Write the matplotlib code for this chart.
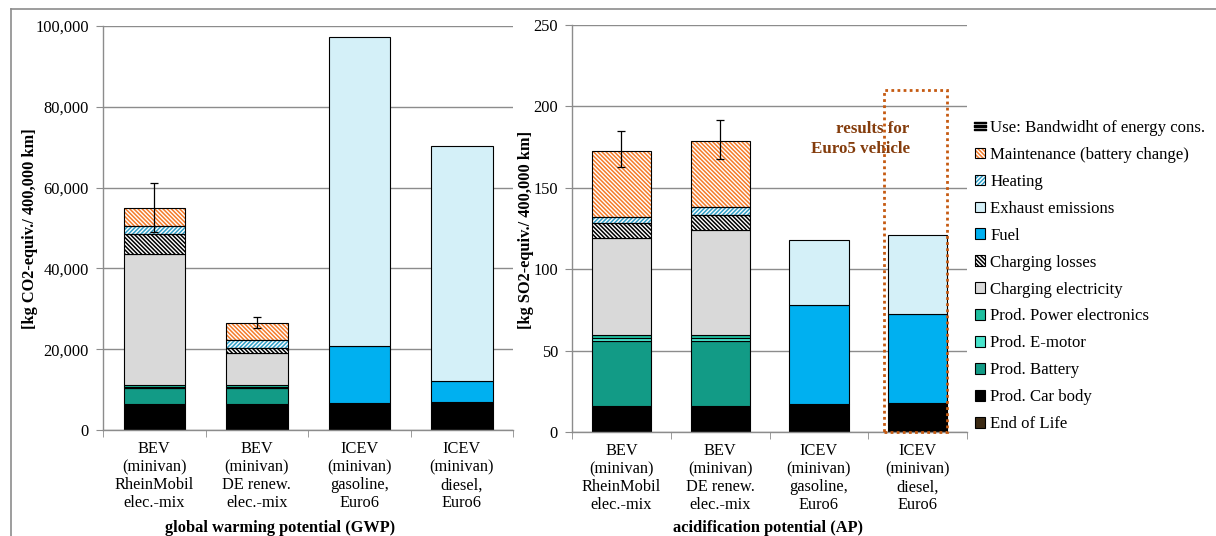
import numpy as np
import matplotlib
matplotlib.use("Agg")
import matplotlib.pyplot as plt
from matplotlib.patches import Patch, Rectangle
from matplotlib.lines import Line2D
from matplotlib.legend_handler import HandlerTuple
from matplotlib.ticker import FuncFormatter, FixedLocator

plt.rcParams['font.family'] = ['Liberation Serif', 'DejaVu Serif']
plt.rcParams['hatch.linewidth'] = 1.1

# categories (same for both panels)
categories = ['BEV\n(minivan)\nRheinMobil\nelec.-mix',
              'BEV\n(minivan)\nDE renew.\nelec.-mix',
              'ICEV\n(minivan)\ngasoline,\nEuro6',
              'ICEV\n(minivan)\ndiesel,\nEuro6']

# stack components, bottom -> top
components = ['End of Life', 'Prod. Car body', 'Prod. Battery', 'Prod. E-motor',
              'Prod. Power electronics', 'Charging electricity', 'Charging losses',
              'Fuel', 'Exhaust emissions', 'Heating', 'Maintenance (battery change)']

# GWP values [kg CO2-eq / 400,000 km]
gwp_end_of_life = [300, 300, 300, 300]
gwp_car_body = [6100, 6100, 6300, 6700]
gwp_battery = [4000, 4000, 0, 0]
gwp_emotor = [300, 300, 0, 0]
gwp_power_el = [400, 400, 0, 0]
gwp_charging_el = [32500, 7900, 0, 0]
gwp_charging_loss = [4900, 1200, 0, 0]
gwp_fuel = [0, 0, 14300, 5200]
gwp_exhaust = [0, 0, 76300, 58200]
gwp_heating = [2100, 2100, 0, 0]
gwp_maintenance = [4300, 4100, 0, 0]
gwp_err_low = [49100, 25200]
gwp_err_high = [61200, 28000]

# AP values [kg SO2-eq / 400,000 km]
ap_end_of_life = [0.3, 0.3, 0.3, 0.3]
ap_car_body = [15.9, 15.9, 16.7, 17.7]
ap_battery = [40.0, 40.0, 0, 0]
ap_emotor = [1.8, 1.8, 0, 0]
ap_power_el = [1.5, 1.5, 0, 0]
ap_charging_el = [59.5, 64.6, 0, 0]
ap_charging_loss = [9.2, 9.2, 0, 0]
ap_fuel = [0, 0, 61.0, 54.5]
ap_exhaust = [0, 0, 39.9, 48.5]
ap_heating = [4.1, 4.7, 0, 0]
ap_maintenance = [40.5, 40.6, 0, 0]
ap_err_low = [162.6, 167.5]
ap_err_high = [184.9, 191.6]

gwp_data = [gwp_end_of_life, gwp_car_body, gwp_battery, gwp_emotor, gwp_power_el,
            gwp_charging_el, gwp_charging_loss, gwp_fuel, gwp_exhaust,
            gwp_heating, gwp_maintenance]
ap_data = [ap_end_of_life, ap_car_body, ap_battery, ap_emotor, ap_power_el,
           ap_charging_el, ap_charging_loss, ap_fuel, ap_exhaust,
           ap_heating, ap_maintenance]

# style per component: (facecolor, hatch, hatch colour)
styles = {
    'End of Life': ('#3b2a14', None, None),
    'Prod. Car body': ('#000000', None, None),
    'Prod. Battery': ('#129b86', None, None),
    'Prod. E-motor': ('#48e4cc', None, None),
    'Prod. Power electronics': ('#1fbf9f', None, None),
    'Charging electricity': ('#d9d9d9', None, None),
    'Charging losses': ('white', '\\' * 8, '#000000'),
    'Fuel': ('#00b0f0', None, None),
    'Exhaust emissions': ('#d4f0f8', None, None),
    'Heating': ('white', '/' * 8, '#2f9fc7'),
    'Maintenance (battery change)': ('white', '\\' * 8, '#f47b2a'),
}

W, H = 1216, 536
fig = plt.figure(figsize=(W / 100, H / 100), dpi=100)

grid_c = '#8c8c8c'
bar_w = 0.6
fs = 11.8


def draw_panel(ax, data, err_low, err_high, ymax, ystep, fmt):
    x = np.arange(len(categories))
    bottom = np.zeros(len(categories))
    for name, vals in zip(components, data):
        vals = np.array(vals, dtype=float)
        m = vals > 0
        fc, hatch, hc = styles[name]
        if hatch:
            ax.bar(x[m], vals[m], bar_w, bottom=bottom[m], color=fc,
                   edgecolor=hc, hatch=hatch, linewidth=0, zorder=2)
            ax.bar(x[m], vals[m], bar_w, bottom=bottom[m], fill=False,
                   edgecolor='black', linewidth=0.8, zorder=3)
        else:
            ax.bar(x[m], vals[m], bar_w, bottom=bottom[m], color=fc,
                   edgecolor='black', linewidth=0.8, zorder=2)
        bottom += vals
    # bandwidth of energy consumption
    ex = x[:len(err_low)]
    tops = bottom[:len(err_low)]
    yerr = [tops - np.array(err_low), np.array(err_high) - tops]
    ax.errorbar(ex, tops, yerr=yerr, fmt='none', ecolor='black',
                elinewidth=0.9, capsize=3, capthick=0.9, zorder=4)

    ax.set_xlim(-0.5, len(categories) - 0.5)
    ax.set_ylim(0, ymax)
    ax.set_yticks(np.arange(0, ymax + ystep / 2, ystep))
    ax.yaxis.set_major_formatter(FuncFormatter(fmt))
    ax.set_xticks(x)
    ax.set_xticklabels(categories, fontsize=fs, linespacing=1.17)
    ax.xaxis.set_minor_locator(FixedLocator(np.arange(-0.5, len(categories), 1)))
    ax.tick_params(axis='x', which='major', length=0, pad=8)
    ax.tick_params(axis='x', which='minor', length=5, color=grid_c, direction='out')
    ax.tick_params(axis='y', length=5, color=grid_c, labelsize=fs, pad=5)
    ax.grid(axis='y', color=grid_c, linewidth=1.0, zorder=0)
    ax.set_axisbelow(True)
    for s in ['top', 'right']:
        ax.spines[s].set_visible(False)
    for s in ['left', 'bottom']:
        ax.spines[s].set_color(grid_c)
        ax.spines[s].set_linewidth(1.0)


ax1 = fig.add_axes([103 / W, 1 - 430 / H, 410 / W, 404 / H])
draw_panel(ax1, gwp_data, gwp_err_low, gwp_err_high, 100000, 20000,
           lambda v, _: f'{v:,.0f}')
ax2 = fig.add_axes([572 / W, 1 - 432 / H, 395 / W, 407 / H])
draw_panel(ax2, ap_data, ap_err_low, ap_err_high, 250, 50,
           lambda v, _: f'{v:.0f}')

fig.text(30 / W, 1 - 229 / H, '[kg CO2-equiv./ 400,000 km]', rotation=90,
         ha='center', va='center', fontsize=fs, fontweight='bold')
fig.text(526 / W, 1 - 230 / H, '[kg SO2-equiv./ 400,000 km]', rotation=90,
         ha='center', va='center', fontsize=fs, fontweight='bold')
fig.text(280 / W, 1 - 528 / H, 'global warming potential (GWP)',
         ha='center', va='center', fontsize=fs, fontweight='bold')
fig.text(768 / W, 1 - 528 / H, 'acidification potential (AP)',
         ha='center', va='center', fontsize=fs, fontweight='bold')

# Euro5 note on the diesel bar
ax2.add_patch(Rectangle((3 - 0.34, 0), 0.64, 210, fill=False, edgecolor='#c55a11',
                        linestyle=(0, (1, 1.2)), linewidth=2, zorder=5, clip_on=False))
ax2.text(2.92, 180, 'results for\nEuro5 vehicle', ha='right', va='center',
         color='#843c0c', fontsize=12.2, fontweight='bold', linespacing=1.35)

# legend, top to bottom
handles = [Line2D([], [], marker='$\\equiv$', color='black', linestyle='none',
                  markersize=9)]
labels = ['Use: Bandwidht of energy cons.']
for name in reversed(components):
    fc, hatch, hc = styles[name]
    if hatch:
        h = (Patch(facecolor=fc, edgecolor=hc, hatch=hatch, linewidth=0),
             Patch(facecolor='none', edgecolor='black', linewidth=0.8))
    else:
        h = Patch(facecolor=fc, edgecolor='black', linewidth=0.8)
    handles.append(h)
    labels.append(name)
fig.legend(handles, labels, loc='upper left', bbox_to_anchor=(975 / W, 1 - 120 / H),
           frameon=False, fontsize=12.1, handlelength=0.6, handleheight=0.6,
           handletextpad=0.3, labelspacing=0.65, borderaxespad=0, borderpad=0,
           handler_map={tuple: HandlerTuple(ndivide=1)})

# outer frame lines (top and left)
fig.add_artist(Line2D([11 / W, 1], [1 - 9 / H, 1 - 9 / H], color=grid_c, linewidth=1.2))
fig.add_artist(Line2D([11 / W, 11 / W], [0, 1 - 9 / H], color=grid_c, linewidth=1.2))

fig.savefig('out.png', dpi=100)
